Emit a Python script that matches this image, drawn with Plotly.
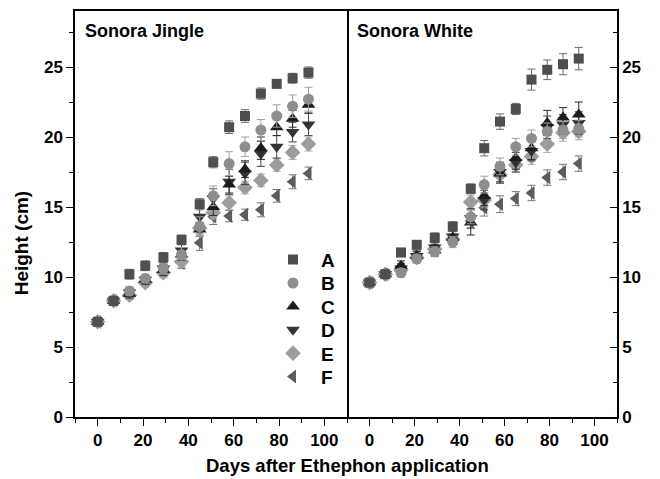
import plotly.graph_objects as go

days = [0, 7, 14, 21, 29, 37, 45, 51, 58, 65, 72, 79, 86, 93]
series_names = ["A", "B", "C", "D", "E", "F"]

# Sonora Jingle (left panel)
jingle_A = [6.8, 8.3, 10.2, 10.8, 11.4, 12.65, 15.2, 18.2, 20.7, 21.5, 23.1, 23.8, 24.2, 24.6]
jingle_B = [6.8, 8.3, 9.0, 9.9, 10.6, 11.6, 13.6, 15.8, 18.1, 19.3, 20.5, 21.5, 22.2, 22.7]
jingle_C = [6.8, 8.3, 8.8, 9.8, 10.5, 11.6, 13.4, 15.0, 16.6, 17.7, 19.2, 20.7, 21.3, 22.3]
jingle_D = [6.8, 8.3, 8.9, 9.8, 10.6, 11.9, 14.3, 15.6, 16.8, 17.4, 18.8, 19.3, 20.35, 20.9]
jingle_E = [6.8, 8.3, 8.7, 9.6, 10.3, 11.1, 13.5, 14.6, 15.3, 16.4, 16.9, 18.0, 18.9, 19.5]
jingle_F = [6.8, 8.3, 8.8, 9.7, 10.4, 11.0, 12.45, 14.3, 14.35, 14.45, 14.8, 15.8, 16.8, 17.4]

jingle_A_err = [0.15, 0.3, 0.35, 0.35, 0.35, 0.35, 0.4, 0.4, 0.45, 0.45, 0.4, 0.3, 0.35, 0.4]
jingle_B_err = [0.15, 0.3, 0.3, 0.3, 0.4, 0.5, 0.7, 0.7, 0.85, 0.7, 0.75, 0.8, 0.8, 0.85]
jingle_C_err = [0.15, 0.3, 0.3, 0.3, 0.4, 0.45, 0.5, 0.6, 0.6, 0.6, 0.8, 0.6, 0.6, 0.6]
jingle_D_err = [0.15, 0.3, 0.3, 0.3, 0.4, 0.45, 0.6, 0.7, 0.9, 0.8, 0.9, 0.8, 0.7, 0.8]
jingle_E_err = [0.15, 0.3, 0.3, 0.3, 0.35, 0.4, 0.4, 0.45, 0.5, 0.45, 0.45, 0.45, 0.5, 0.5]
jingle_F_err = [0.15, 0.3, 0.3, 0.3, 0.35, 0.4, 0.55, 0.55, 0.4, 0.4, 0.5, 0.45, 0.5, 0.45]

# Sonora White (right panel)
white_A = [9.6, 10.2, 11.75, 12.3, 12.8, 13.6, 16.3, 19.2, 21.1, 22.0, 24.1, 24.8, 25.2, 25.6]
white_B = [9.6, 10.2, 10.3, 11.3, 11.8, 12.5, 14.3, 16.6, 17.9, 19.3, 19.9, 20.4, 20.5, 20.6]
white_C = [9.6, 10.2, 10.8, 11.5, 11.9, 12.8, 13.9, 15.8, 17.4, 18.5, 19.2, 21.0, 21.4, 21.6]
white_D = [9.6, 10.2, 10.6, 11.5, 12.1, 12.9, 14.2, 15.5, 17.5, 18.2, 19.0, 20.7, 20.9, 21.0]
white_E = [9.6, 10.2, 10.5, 11.4, 12.0, 12.7, 15.35, 15.5, 17.3, 18.0, 18.6, 19.5, 20.3, 20.4]
white_F = [9.6, 10.2, 10.6, 11.4, 11.9, 12.7, 14.0, 14.95, 15.2, 15.6, 16.0, 17.1, 17.5, 18.1]

white_A_err = [0.15, 0.2, 0.3, 0.3, 0.35, 0.35, 0.35, 0.55, 0.55, 0.4, 0.75, 0.7, 0.75, 0.8]
white_B_err = [0.15, 0.2, 0.3, 0.3, 0.35, 0.4, 0.5, 0.6, 0.6, 0.6, 0.6, 0.6, 0.6, 0.6]
white_C_err = [0.15, 0.2, 0.35, 0.35, 0.4, 0.5, 0.9, 0.7, 0.7, 0.8, 0.8, 0.9, 0.7, 0.9]
white_D_err = [0.15, 0.2, 0.35, 0.35, 0.4, 0.5, 0.7, 0.7, 0.7, 0.7, 0.7, 0.8, 0.7, 0.8]
white_E_err = [0.15, 0.2, 0.3, 0.3, 0.35, 0.4, 0.5, 0.5, 0.5, 0.5, 0.55, 0.6, 0.6, 0.6]
white_F_err = [0.15, 0.2, 0.3, 0.3, 0.35, 0.4, 0.5, 0.6, 0.6, 0.5, 0.55, 0.55, 0.55, 0.55]

panel_titles = ["Sonora Jingle", "Sonora White"]
x_title = "Days after Ethephon application"
y_title = "Height (cm)"

colors = ["#4f4f4f", "#8e8e8e", "#1c1c1c", "#353535", "#9c9c9c", "#5c5c5c"]
err_colors = ["#6a6a6a", "#a0a0a0", "#2a2a2a", "#454545", "#a8a8a8", "#777777"]
symbols = ["square", "circle", "triangle-up", "triangle-down", "diamond", "triangle-left"]
sizes = [10, 11, 12, 12, 12, 12]

jingle = [jingle_A, jingle_B, jingle_C, jingle_D, jingle_E, jingle_F]
jingle_err = [jingle_A_err, jingle_B_err, jingle_C_err, jingle_D_err, jingle_E_err, jingle_F_err]
white = [white_A, white_B, white_C, white_D, white_E, white_F]
white_err = [white_A_err, white_B_err, white_C_err, white_D_err, white_E_err, white_F_err]

FONT = "Liberation Sans, Arial, sans-serif"
fig = go.Figure()

legend_ids = ["legend", "legend2", "legend3", "legend4", "legend5", "legend6"]
order = [5, 4, 3, 2, 1, 0]
for panel, (vals, errs, xa, ya) in enumerate([(jingle, jingle_err, "x", "y"), (white, white_err, "x2", "y2")]):
    for i in order:
        fig.add_trace(go.Scatter(
            x=days, y=vals[i], mode="markers", name=series_names[i],
            xaxis=xa, yaxis=ya, showlegend=(panel == 0), legend=legend_ids[i],
            marker=dict(symbol=symbols[i], size=sizes[i], color=colors[i], line=dict(width=0)),
            error_y=dict(type="data", array=errs[i], visible=True, color=err_colors[i],
                         thickness=1, width=4),
        ))

split = 272 / 542
axis_common = dict(showline=True, linecolor="black", linewidth=1.5,
                   showgrid=False, zeroline=False,
                   tickfont=dict(family=FONT, size=17, color="black", weight="bold"))
xcommon = dict(axis_common, mirror=True, range=[-10, 110], tick0=0, dtick=20, ticks="outside",
               ticklen=7, tickwidth=1.2, tickcolor="black",
               minor=dict(dtick=10, ticks="outside", ticklen=4, tickwidth=1.2, tickcolor="black"))
ycommon = dict(axis_common, range=[0, 29], tick0=0, dtick=5, ticklen=7, tickwidth=1.2,
               tickcolor="black")

legend_rows_px = [259, 282.5, 306, 329.5, 353, 376.5]
legend_layout = {}
for k, lid in enumerate(legend_ids):
    legend_layout[lid] = dict(
        x=(265 - 75) / 542, y=(417 - legend_rows_px[k]) / 408,
        xanchor="left", yanchor="middle", bgcolor="rgba(0,0,0,0)",
        font=dict(family=FONT, size=19, color="black", weight="bold"),
        itemwidth=46)

fig.update_layout(
    width=660, height=479,
    margin=dict(l=75, r=43, t=9, b=62),
    plot_bgcolor="white", paper_bgcolor="white",
    xaxis=dict(xcommon, domain=[0, split], anchor="y"),
    xaxis2=dict(xcommon, domain=[split, 1], anchor="y2"),
    yaxis=dict(ycommon, domain=[0, 1], anchor="x", side="left", ticks="outside", mirror=True,
               minor=dict(dtick=2.5, ticklen=4, tickwidth=1.2, tickcolor="black", ticks="outside")),
    yaxis2=dict(ycommon, domain=[0, 1], anchor="x2", side="right", ticks="inside", mirror=False,
                minor=dict(dtick=2.5, ticklen=4, tickwidth=1.2, tickcolor="black", ticks="inside")),
    font=dict(family=FONT, color="black"),
    **legend_layout,
)

for k, ax in enumerate(["x", "x2"]):
    fig.add_annotation(text=panel_titles[k], xref=ax + " domain", yref="y domain", x=0.03, y=0.98,
                       xanchor="left", yanchor="top", showarrow=False,
                       font=dict(family=FONT, size=18, color="black", weight="bold"))
fig.add_annotation(text=x_title, xref="paper", yref="paper", x=0.502, y=-0.12,
                   xanchor="center", yanchor="middle", showarrow=False,
                   font=dict(family=FONT, size=18.5, color="black", weight="bold"))
fig.add_annotation(text=y_title, xref="paper", yref="paper", x=-0.098, y=0.43,
                   xanchor="center", yanchor="middle", showarrow=False, textangle=-90,
                   font=dict(family=FONT, size=19, color="black", weight="bold"))

fig.write_html("out.html")
